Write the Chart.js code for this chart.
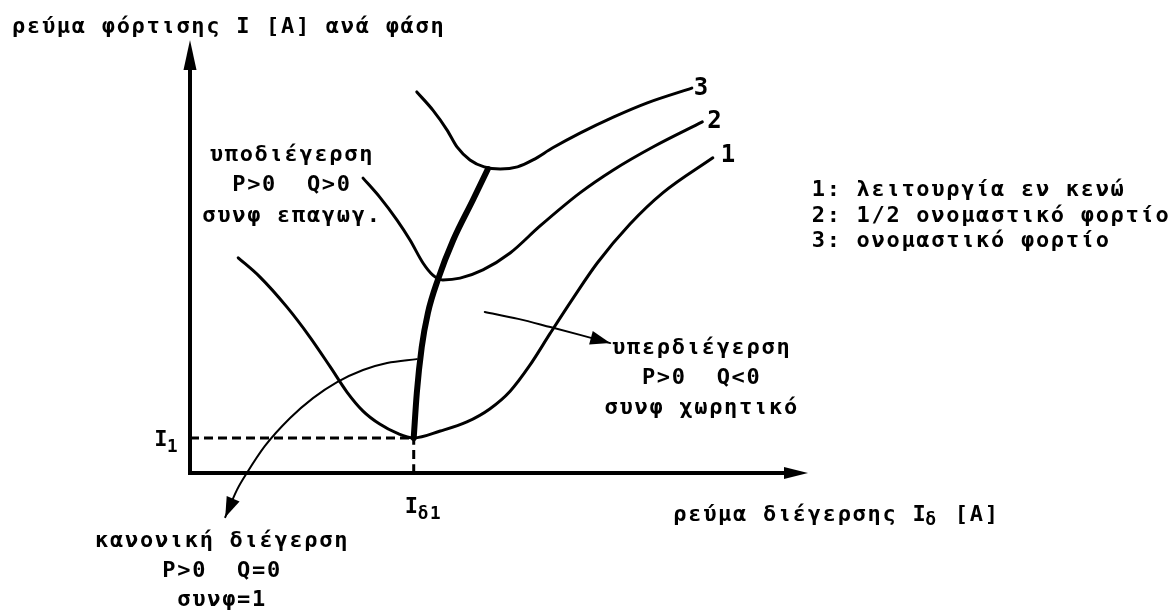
<!DOCTYPE html>
<html>
<head>
<meta charset="utf-8">
<script src="https://cdn.jsdelivr.net/npm/chart.js@4.4.1/dist/chart.umd.min.js"></script>
<style>
  html, body { margin: 0; padding: 0; background: #fff; }
</style>
</head>
<body>
<canvas id="vcurves" width="1171" height="615"></canvas>
<script>
// V-curves of a synchronous machine: armature current I vs. field current Iδ
const noLoad = [[7.8,49.7],[11.3,45.3],[15.7,38.3],[19.4,31.4],[22.7,24.5],[25.4,18.7],[28.0,14.3],[30.7,11.3],
  [33.5,9.2],[36.2,8.1],[40.5,9.7],[44.8,11.8],[48.5,14.8],[51.8,18.9],[55.0,24.9],[58.3,32.3],[62.0,40.4],
  [65.9,48.5],[71.2,57.5],[76.5,64.7],[84.6,72.8]];
const halfLoad = [[28.0,68.1],[30.7,63.7],[33.5,58.4],[35.6,53.8],[37.7,48.5],[39.3,45.7],[40.9,44.6],
  [43.7,45.0],[47.4,46.9],[51.8,50.8],[56.6,57.0],[63.1,64.7],[68.5,70.0],[74.9,75.3],[82.9,81.1]];
const fullLoad = [[36.7,88.0],[39.3,83.8],[41.6,79.2],[43.2,75.3],[45.3,72.3],[47.6,70.7],[50.2,70.2],
  [53.0,70.7],[55.5,72.3],[58.7,75.1],[63.1,78.5],[68.5,82.2],[74.0,85.5],[81.2,88.9]];
// locus of the minima (συνφ = 1)
const unityPf = [[36.2,8.1],[36.7,18.5],[37.5,29.1],[38.5,37.0],[40.1,44.6],[42.6,53.8],[45.8,63.1],[48.2,70.2]];
const I1 = 8.1;
const Id1 = 36.2;

// pointer lines for the region notes; arrow tip is the first point of each
const normalPointer = [[5.7,-10.2],[7.6,-3.9],[9.2,0],[12.1,6.2],[16.2,12.7],[19.9,17.3],[23.8,21.0],
  [28.0,23.8],[31.9,25.4],[36.7,26.3]];
const overPointer = [[68.0,30.0],[63.1,31.9],[58.3,33.7],[53.1,35.6],[47.7,37.2]];

const curveTags = ["1", "2", "3"];
const tagPos = [[87.2,73.2],[85.0,81.1],[82.8,88.7]];
const legendLines = ["1: λειτουργία εν κενώ", "2: 1/2 ονομαστικό φορτίο", "3: ονομαστικό φορτίο"];
const underText = ["υποδιέγερση", "P>0  Q>0", "συνφ επαγωγ."];
const overText = ["υπερδιέγερση", "P>0  Q<0", "συνφ χωρητικό"];
const normalText = ["κανονική διέγερση", "P>0  Q=0", "συνφ=1"];

const FONT = '"DejaVu Sans Mono", monospace';
const toXY = arr => arr.map(p => ({ x: p[0], y: p[1] }));

function line(data, width, extra) {
  return Object.assign({
    data: toXY(data), borderColor: '#000', borderWidth: width,
    pointRadius: 0, cubicInterpolationMode: 'monotone', fill: false, clip: false,
    borderCapStyle: 'round', borderJoinStyle: 'round'
  }, extra || {});
}

function arrowHead(ctx, tx, ty, dx, dy, len, half) {
  const n = Math.hypot(dx, dy) || 1;
  const ux = dx / n, uy = dy / n;
  ctx.beginPath();
  ctx.moveTo(tx, ty);
  ctx.lineTo(tx - ux * len - uy * half, ty - uy * len + ux * half);
  ctx.lineTo(tx - ux * len + uy * half, ty - uy * len - ux * half);
  ctx.closePath();
  ctx.fill();
}

function text(ctx, str, x, y, size, align) {
  ctx.font = 'bold ' + size + 'px ' + FONT;
  ctx.textAlign = align || 'left';
  ctx.textBaseline = 'middle';
  ctx.fillText(str, x, y);
}

// I with a subscript, e.g. Iδ1
function subLabel(ctx, main, sub, x, y, size) {
  text(ctx, main, x, y, size, 'left');
  const w = ctx.measureText(main).width;
  text(ctx, sub, x + w - 2, y + size * 0.35, size * 0.8, 'left');
}

const sketch = {
  id: 'sketch',
  beforeDatasetsDraw(chart) {
    const { ctx, chartArea: a } = chart;
    ctx.save();
    ctx.strokeStyle = '#000';
    ctx.fillStyle = '#000';
    ctx.lineWidth = 4;
    ctx.beginPath();
    ctx.moveTo(a.left, a.top + 20);
    ctx.lineTo(a.left, a.bottom);
    ctx.lineTo(a.right - 20, a.bottom);
    ctx.stroke();
    arrowHead(ctx, a.left, a.top, 0, -1, 30, 6.5);
    arrowHead(ctx, a.right, a.bottom, 1, 0, 24, 6);
    ctx.restore();
  },
  afterDatasetsDraw(chart) {
    const { ctx } = chart;
    const xs = chart.scales.x, ys = chart.scales.y;
    const px = v => xs.getPixelForValue(v), py = v => ys.getPixelForValue(v);
    ctx.save();
    ctx.fillStyle = '#000';

    // arrowheads at the start of the pointer lines
    [chart.data.datasets.length - 2, chart.data.datasets.length - 1].forEach(i => {
      const pts = chart.getDatasetMeta(i).data;
      const p = pts[0], q = pts[1];
      const cx = p.cp2x !== undefined ? p.cp2x : q.x, cy = p.cp2y !== undefined ? p.cp2y : q.y;
      arrowHead(ctx, p.x, p.y, p.x - cx, p.y - cy, 20, 7);
    });

    ctx.letterSpacing = '1.7px';
    // axis titles
    text(ctx, 'ρεύμα φόρτισης I [A] ανά φάση', px(-28.8), py(103.0), 22);
    const xl = px(78.2), yl = py(-9.7);
    text(ctx, 'ρεύμα διέγερσης I', xl, yl, 22);
    let w = ctx.measureText('ρεύμα διέγερσης I').width;
    text(ctx, 'δ', xl + w - 2, yl + 5, 18);
    w += ctx.measureText('δ').width;
    text(ctx, ' [A]', xl + w, yl, 22);

    subLabel(ctx, 'I', 'δ1', px(Id1) - 9, py(-7.9), 22);
    subLabel(ctx, 'I', '1', px(-5.8), py(7.6), 22);

    // curve numbers
    curveTags.forEach((t, i) => text(ctx, t, px(tagPos[i][0]), py(tagPos[i][1]), 24, 'center'));

    // legend
    legendLines.forEach((t, i) => text(ctx, t, px(100.6), py(65.2 - i * 5.9), 22));

    // region notes
    underText.forEach((t, i) => text(ctx, t, px(16.5), py(73.4 - i * 7.0), 22, 'center'));
    overText.forEach((t, i) => text(ctx, t, px(82.8), py(28.9 - i * 7.0), 22, 'center'));
    normalText.forEach((t, i) => text(ctx, t, px(5.2), py(-15.7 - i * 6.9), 22, 'center'));
    ctx.restore();
  }
};

new Chart(document.getElementById('vcurves'), {
  type: 'line',
  data: {
    datasets: [
      line([[0, I1], [Id1, I1]], 3, { borderDash: [9, 5], borderCapStyle: 'butt' }),
      line([[Id1, 0], [Id1, I1]], 3, { borderDash: [9, 5], borderCapStyle: 'butt' }),
      line(noLoad, 3),
      line(halfLoad, 3),
      line(fullLoad, 3),
      line(unityPf, 6),
      line(normalPointer, 2),
      line(overPointer, 2)
    ]
  },
  options: {
    responsive: false,
    animation: false,
    events: [],
    layout: { padding: { left: 190, right: 363, top: 40, bottom: 142 } },
    scales: {
      x: { type: 'linear', min: 0, max: 100, display: false },
      y: { type: 'linear', min: 0, max: 100, display: false }
    },
    plugins: { legend: { display: false }, tooltip: { enabled: false } }
  },
  plugins: [sketch]
});
</script>
</body>
</html>
